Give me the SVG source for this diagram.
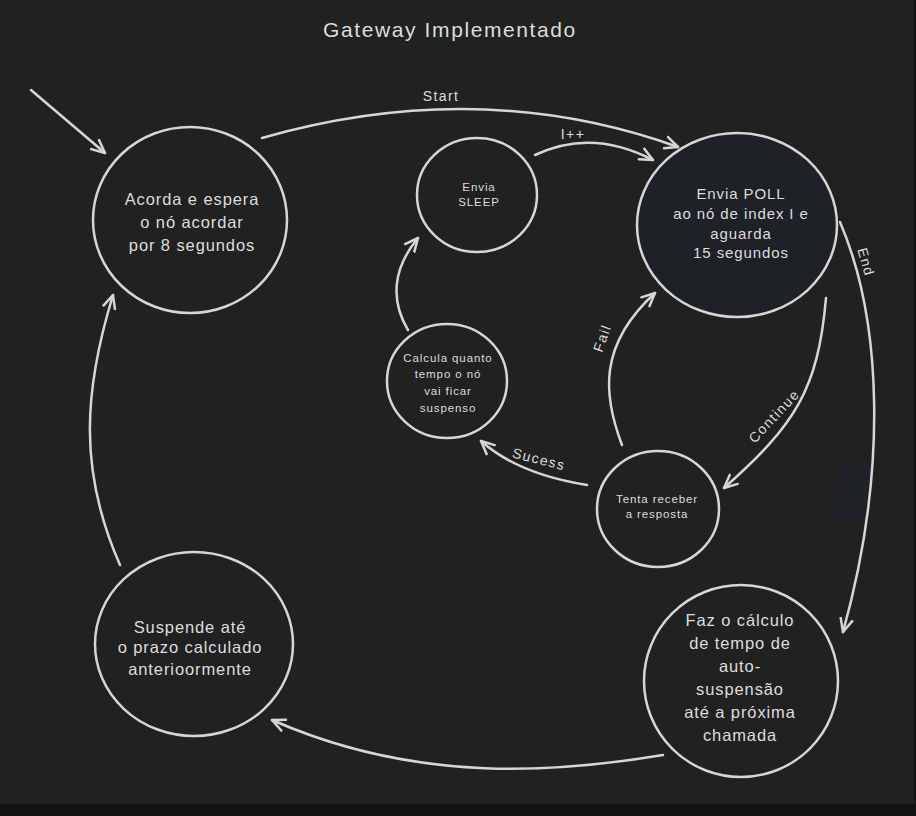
<svg xmlns="http://www.w3.org/2000/svg" width="916" height="816" viewBox="0 0 916 816">
<style>
.bg{fill:#212121}
.node{fill:none;stroke:#d6d6d6;stroke-width:2.5}
.t{fill:#dddddd;font-family:"Liberation Sans",Arial,sans-serif;text-anchor:middle}
.big{font-size:16.5px;letter-spacing:0.9px}
.mid{font-size:15px;letter-spacing:0.9px}
.sm{font-size:11.5px;letter-spacing:0.9px}
.lbl{font-size:14px;letter-spacing:1.4px}
.edge{fill:none;stroke:#d6d6d6;stroke-width:2.5;stroke-linecap:round;marker-end:url(#ah)}
</style>
<defs>
<marker id="ah" viewBox="0 0 16 16" refX="14" refY="8" markerWidth="16" markerHeight="16" markerUnits="userSpaceOnUse" orient="auto">
<path d="M1,2 L14,8 L1,14" fill="none" stroke="#d6d6d6" stroke-width="2.5" stroke-linecap="round" stroke-linejoin="round"/>
</marker>
</defs>
<rect class="bg" x="0" y="0" width="916" height="816"/>
<rect x="0" y="804" width="916" height="12" fill="#121212"/>
<rect x="914" y="0" width="2" height="804" fill="#161616"/>
<polygon points="840,462 870,465 864,522 833,519" fill="#1e2226"/>

<text class="t" x="450" y="37" style="font-size:21px;letter-spacing:1.6px">Gateway Implementado</text>

<g id="connectors">
<path class="edge" d="M31,90 L105,153"/>
<path class="edge" d="M262,138 Q480,76 678,147"/>
<path class="edge" d="M535,155 Q592,128 653,160"/>
<path class="edge" d="M840,222 C882,320 888,470 843,632"/>
<path class="edge" d="M826,298 C818,390 795,425 724,488"/>
<path class="edge" d="M622,445 C603,395 598,345 655,293"/>
<path class="edge" d="M587,485 Q518,474 481,441"/>
<path class="edge" d="M408,330 C390,300 393,268 418,238"/>
<path class="edge" d="M663,755 C560,772 420,785 272,720"/>
<path class="edge" d="M120,565 C78,470 84,390 113,295"/>
<text class="t lbl" x="441" y="101">Start</text>
<text class="t lbl" x="573" y="139">I++</text>
<text class="t lbl" transform="translate(866,262) rotate(74)" y="5">End</text>
<text class="t lbl" transform="translate(774,416) rotate(-47)" y="5">Continue</text>
<text class="t lbl" transform="translate(602,338) rotate(-70)" y="5">Fail</text>
<text class="t lbl" transform="translate(539,459) rotate(14)" y="5">Sucess</text>
</g>

<g id="acorda">
<ellipse class="node" cx="190" cy="220" rx="97" ry="93"/>
<text class="t big" x="192" y="205">Acorda e espera</text>
<text class="t big" x="192" y="228">o nó acordar</text>
<text class="t big" x="192" y="251">por 8 segundos</text>
</g>

<g id="poll">
<ellipse cx="737" cy="225" rx="100" ry="92" fill="#1e2125" stroke="#d6d6d6" stroke-width="2.5"/>
<text class="t mid" x="741" y="199">Envia POLL</text>
<text class="t mid" x="741" y="219">ao nó de index I e</text>
<text class="t mid" x="741" y="239">aguarda</text>
<text class="t mid" x="741" y="258">15 segundos</text>
</g>

<g id="sleep">
<ellipse class="node" cx="477" cy="195" rx="60" ry="57"/>
<text class="t sm" x="479" y="191">Envia</text>
<text class="t sm" x="479" y="206">SLEEP</text>
</g>

<g id="calcula">
<ellipse class="node" cx="447" cy="381" rx="60" ry="57"/>
<text class="t sm" x="448" y="362">Calcula quanto</text>
<text class="t sm" x="448" y="378">tempo o nó</text>
<text class="t sm" x="448" y="395">vai ficar</text>
<text class="t sm" x="448" y="412">suspenso</text>
</g>

<g id="tenta">
<ellipse class="node" cx="658" cy="509" rx="61" ry="58"/>
<text class="t sm" x="657" y="503">Tenta receber</text>
<text class="t sm" x="657" y="518">a resposta</text>
</g>

<g id="faz">
<ellipse class="node" cx="741" cy="681" rx="97" ry="96"/>
<text class="t big" x="740" y="626">Faz o cálculo</text>
<text class="t big" x="740" y="649">de tempo de</text>
<text class="t big" x="740" y="672">auto-</text>
<text class="t big" x="740" y="695">suspensão</text>
<text class="t big" x="740" y="718">até a próxima</text>
<text class="t big" x="740" y="741">chamada</text>
</g>

<g id="suspende">
<ellipse class="node" cx="194" cy="644" rx="99" ry="92"/>
<text class="t big" x="190" y="633">Suspende até</text>
<text class="t big" x="190" y="653">o prazo calculado</text>
<text class="t big" x="190" y="675">anterioormente</text>
</g>
</svg>
